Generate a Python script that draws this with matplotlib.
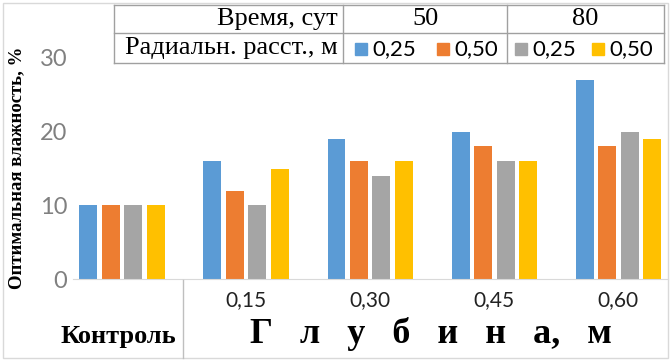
import numpy as np
import matplotlib.pyplot as plt
from matplotlib.patches import Rectangle
from matplotlib.lines import Line2D

# data
groups = ["Контроль", "0,15", "0,30", "0,45", "0,60"]
s50_025 = [10, 16, 19, 20, 27]
s50_050 = [10, 12, 16, 18, 18]
s80_025 = [10, 10, 14, 16, 20]
s80_050 = [10, 15, 16, 16, 19]
series = [s50_025, s50_050, s80_025, s80_050]
colors = ["#5B9BD5", "#ED7D31", "#A5A5A5", "#FFC000"]
legend_labels = ["0,25", "0,50", "0,25", "0,50"]
yticks = [0, 10, 20, 30]

W, H = 672, 363
serif = "Liberation Serif"
sans = "Lato"


def fx(x):
    return x / W


def fy(y):
    return 1 - y / H


fig = plt.figure(figsize=(W / 100, H / 100), dpi=100)
ax = fig.add_axes([fx(73), fy(279), fx(668) - fx(73), fy(58) - fy(279)])

x = np.arange(len(groups))
pitch = 0.181
width = 0.145
for i, (vals, c) in enumerate(zip(series, colors)):
    ax.bar(x + (i - 1.5) * pitch, vals, width, color=c)

ax.set_xlim(-0.395, 4.40)
ax.set_ylim(0, 30)
ax.set_yticks(yticks)
ax.set_yticklabels([str(t) for t in yticks], fontsize=17, color="#808080", family=sans)
ax.set_xticks(x[1:])
ax.set_xticklabels(groups[1:], fontsize=15, family=sans, color="#222222")
ax.tick_params(axis="both", length=0)
ax.tick_params(axis="x", pad=8)
ax.tick_params(axis="y", pad=4)
for s in ["top", "right", "left"]:
    ax.spines[s].set_visible(False)
ax.spines["bottom"].set_color("#D9D9D9")

# y label
fig.text(fx(17), fy(168), "Оптимальная влажность, %", rotation=90, ha="center", va="center",
         fontsize=13.5, fontweight="bold", family=serif)

# bottom labels
fig.text(fx(176), fy(337), "Контроль", ha="right", va="center", fontsize=19,
         fontweight="bold", family=serif)
fig.text(fx(431), fy(334), "Г   л   у   б   и   н   а,   м", ha="center", va="center",
         fontsize=26, fontweight="bold", family=serif)
fig.add_artist(Line2D([fx(183), fx(183)], [fy(280), fy(358)], color="#BFBFBF", lw=1))

# table with legend
tc = "#A0A0A0"
for yy in [5, 33, 63]:
    fig.add_artist(Line2D([fx(114), fx(664)], [fy(yy), fy(yy)], color=tc, lw=1))
for xx in [114, 343, 507, 664]:
    fig.add_artist(Line2D([fx(xx), fx(xx)], [fy(5), fy(63)], color=tc, lw=1))
fig.text(fx(338), fy(19), "Время, сут", ha="right", va="center", fontsize=19, family=serif)
fig.text(fx(338), fy(48), "Радиальн. расст., м", ha="right", va="center", fontsize=19, family=serif)
fig.text(fx(426), fy(19), "50", ha="center", va="center", fontsize=19, family=serif)
fig.text(fx(585), fy(19), "80", ha="center", va="center", fontsize=19, family=serif)
sq_x = [355, 437, 515, 592]
for sx, c, lab in zip(sq_x, colors, legend_labels):
    fig.add_artist(Rectangle((fx(sx), fy(55)), fx(12), 12 / H, color=c, transform=fig.transFigure))
    fig.text(fx(sx + 17), fy(49), lab, ha="left", va="center", fontsize=16, family=sans)

# outer border
fig.add_artist(Rectangle((fx(3), fy(358)), fx(665), (358 - 3) / H, fill=False,
                         edgecolor="#D9D9D9", lw=1, transform=fig.transFigure))

fig.savefig("out.png", dpi=100)
